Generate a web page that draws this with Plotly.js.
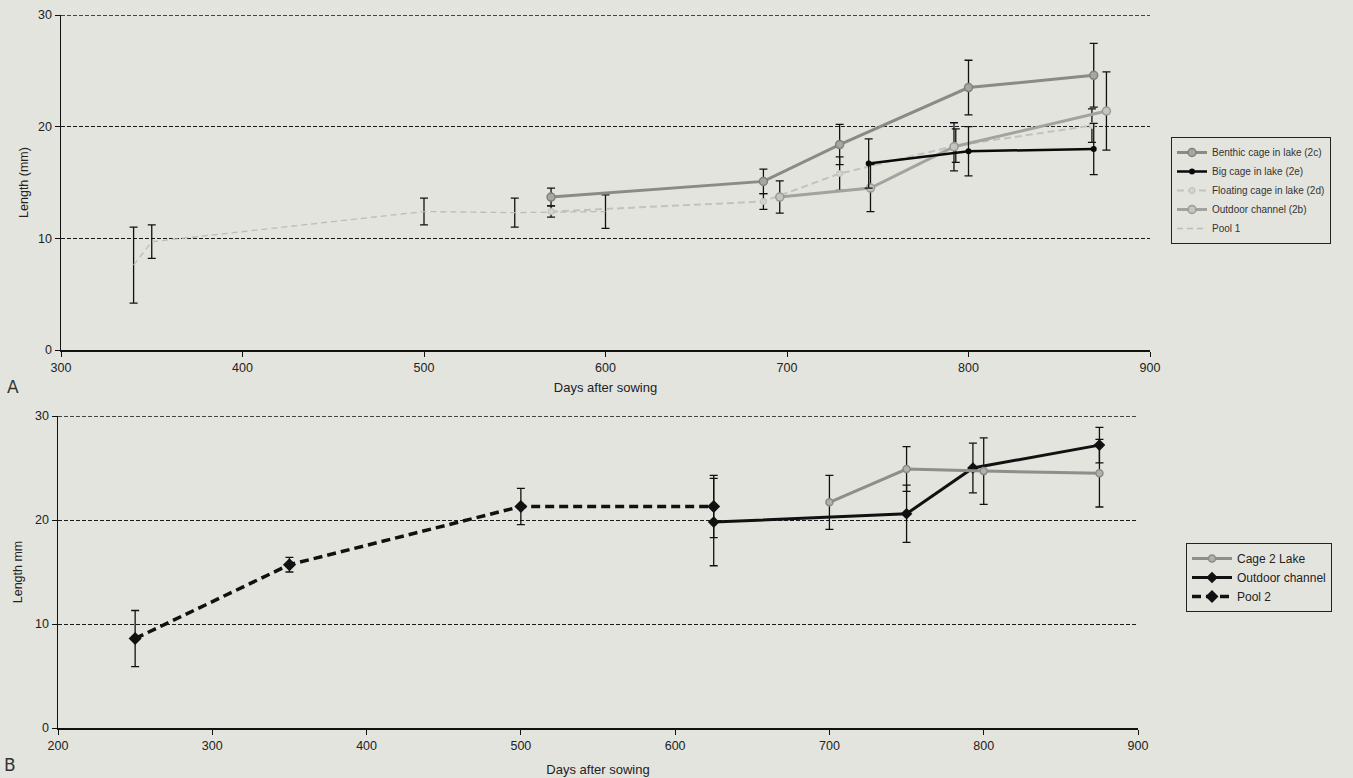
<!DOCTYPE html>
<html>
<head>
<meta charset="utf-8">
<script src="https://cdn.plot.ly/plotly-3.0.1.min.js"></script>
<style>
html,body{margin:0;padding:0;background:#e4e4de;}
#chart{width:1353px;height:778px;}
</style>
</head>
<body>
<div id="chart"></div>
<script>
// ---------- Panel A data ----------
const benthicX   = [570, 687, 729, 800, 869];
const benthicY   = [13.7, 15.1, 18.4, 23.5, 24.6];
const benthicErr = [0.8, 1.1, 1.8, 2.45, 2.85];

const bigCageX   = [745, 800, 869];
const bigCageY   = [16.7, 17.8, 18.0];
const bigCageErr = [2.2, 2.2, 2.3];

const floatX   = [570, 687, 729, 793, 868];
const floatY   = [12.4, 13.3, 15.8, 18.3, 20.1];
const floatErr = [0.5, 0.7, 1.5, 1.5, 1.5];

const outdoorAX   = [696, 746, 792, 876];
const outdoorAY   = [13.7, 14.5, 18.2, 21.4];
const outdoorAErr = [1.45, 2.1, 2.15, 3.5];

const pool1X   = [340, 350, 500, 550, 600];
const pool1Y   = [7.6, 9.7, 12.4, 12.3, 12.4];
const pool1Err = [3.4, 1.5, 1.2, 1.3, 1.5];

// ---------- Panel B data ----------
const cage2X   = [700, 750, 800, 875];
const cage2Y   = [21.7, 24.9, 24.7, 24.5];
const cage2Err = [2.6, 2.15, 3.2, 3.25];

const outdoorBX   = [625, 750, 793, 875];
const outdoorBY   = [19.8, 20.6, 25.0, 27.2];
const outdoorBErr = [4.2, 2.75, 2.4, 1.7];

const pool2X   = [250, 350, 500, 625];
const pool2Y   = [8.6, 15.7, 21.3, 21.3];
const pool2Err = [2.7, 0.7, 1.75, 3.0];

const labelsA = ['Benthic cage in lake (2c)', 'Big cage in lake (2e)', 'Floating cage in lake (2d)', 'Outdoor channel (2b)', 'Pool 1'];
const labelsB = ['Cage 2 Lake', 'Outdoor channel', 'Pool 2'];
const yMax = 30;

function err(arr){ return {type:'data', array:arr, visible:true, color:'#111', thickness:1.3, width:4}; }

const traces = [
  {x:pool1X, y:pool1Y, error_y:err(pool1Err), name:labelsA[4], mode:'lines', xaxis:'x', yaxis:'y', legend:'legend', legendrank:5,
   line:{color:'#bcbcb8', width:1.3, dash:'6px,4px'}},
  {x:floatX, y:floatY, error_y:err(floatErr), name:labelsA[2], mode:'lines+markers', xaxis:'x', yaxis:'y', legend:'legend', legendrank:3,
   line:{color:'#c2c2be', width:2, dash:'7px,4px'}, marker:{symbol:'circle', size:6, color:'#d4d4d0', line:{color:'#bdbdb8', width:1}}},
  {x:outdoorAX, y:outdoorAY, error_y:err(outdoorAErr), name:labelsA[3], mode:'lines+markers', xaxis:'x', yaxis:'y', legend:'legend', legendrank:4,
   line:{color:'#a2a29e', width:3}, marker:{symbol:'circle', size:8, color:'#c4c4c0', line:{color:'#9a9a96', width:1.5}}},
  {x:bigCageX, y:bigCageY, error_y:err(bigCageErr), name:labelsA[1], mode:'lines+markers', xaxis:'x', yaxis:'y', legend:'legend', legendrank:2,
   line:{color:'#0a0a0a', width:2.5}, marker:{symbol:'circle', size:6, color:'#0a0a0a'}},
  {x:benthicX, y:benthicY, error_y:err(benthicErr), name:labelsA[0], mode:'lines+markers', xaxis:'x', yaxis:'y', legend:'legend', legendrank:1,
   line:{color:'#8a8a86', width:3}, marker:{symbol:'circle', size:8, color:'#a6a6a2', line:{color:'#80807c', width:1.5}}},

  {x:pool2X, y:pool2Y, error_y:err(pool2Err), name:labelsB[2], mode:'lines+markers', xaxis:'x2', yaxis:'y2', legend:'legend2', legendrank:3,
   line:{color:'#111', width:3.5, dash:'9px,5px'}, marker:{symbol:'diamond', size:10, color:'#111'}},
  {x:outdoorBX, y:outdoorBY, error_y:err(outdoorBErr), name:labelsB[1], mode:'lines+markers', xaxis:'x2', yaxis:'y2', legend:'legend2', legendrank:2,
   line:{color:'#111', width:3}, marker:{symbol:'diamond', size:9, color:'#111'}},
  {x:cage2X, y:cage2Y, error_y:err(cage2Err), name:labelsB[0], mode:'lines+markers', xaxis:'x2', yaxis:'y2', legend:'legend2', legendrank:1,
   line:{color:'#8e8e8a', width:3}, marker:{symbol:'circle', size:7, color:'#b0b0ac', line:{color:'#8a8a86', width:1.5}}}
];

const font = {family:'Liberation Sans, Arial, sans-serif', color:'#222'};
function xax(domain, range, anchor, title, standoff){
  return {domain:domain, range:range, anchor:anchor, tickmode:'linear', dtick:100, showgrid:false, zeroline:false,
    showline:true, linecolor:'#111', linewidth:1.5, ticks:'outside', ticklen:5, tickcolor:'#111',
    tickfont:{family:font.family, size:12.5, color:'#222'},
    title:{text:title, font:{family:font.family, size:13, color:'#222'}, standoff:standoff}, automargin:false, fixedrange:true};
}
function yax(domain, anchor, title, standoff){
  return {domain:domain, range:[0, yMax], anchor:anchor, tickmode:'linear', dtick:10, showgrid:true, gridcolor:'#1a1a1a', gridwidth:1, griddash:'4px,2px',
    zeroline:false, showline:true, linecolor:'#111', linewidth:1.5, ticks:'outside', ticklen:5, tickcolor:'#111',
    tickfont:{family:font.family, size:12.5, color:'#222'},
    title:{text:title, font:{family:font.family, size:12.5, color:'#222'}, standoff:standoff}, automargin:false, fixedrange:true};
}

const W = 1353, H = 778;
const layout = {
  width:W, height:H, margin:{l:0, r:0, t:0, b:0},
  paper_bgcolor:'#e4e4de', plot_bgcolor:'rgba(0,0,0,0)',
  font:font, showlegend:true,
  xaxis: xax([61/W, 1150/W], [300, 900], 'y', 'Days after sowing', 9),
  yaxis: yax([(H-350)/H, (H-15)/H], 'x', 'Length (mm)', 6),
  xaxis2: xax([58/W, 1138/W], [200, 900], 'y2', 'Days after sowing', 13),
  yaxis2: yax([(H-728)/H, (H-416)/H], 'x2', 'Length mm', 9),
  shapes:[
    {type:'line', xref:'x domain', yref:'y', x0:0, x1:1, y0:yMax, y1:yMax, line:{color:'#111', width:1.3, dash:'4px,2px'}},
    {type:'line', xref:'x2 domain', yref:'y2', x0:0, x1:1, y0:yMax, y1:yMax, line:{color:'#111', width:1.3, dash:'4px,2px'}}
  ],
  legend:{x:1171/W, y:(H-137)/H, xanchor:'left', yanchor:'top', bgcolor:'rgba(0,0,0,0)', bordercolor:'#222', borderwidth:1,
    font:{family:font.family, size:10, color:'#333'}, traceorder:'normal', itemwidth:30, tracegroupgap:0},
  legend2:{x:1186/W, y:(H-543)/H, xanchor:'left', yanchor:'top', bgcolor:'rgba(0,0,0,0)', bordercolor:'#222', borderwidth:1,
    font:{family:font.family, size:12, color:'#222'}, traceorder:'normal', itemwidth:40, tracegroupgap:0},
  annotations:[
    {text:'A', xref:'paper', yref:'paper', x:5/W, y:(H-387)/H, xanchor:'left', yanchor:'middle', showarrow:false, font:{family:'DejaVu Sans, sans-serif', size:17, color:'#333'}},
    {text:'B', xref:'paper', yref:'paper', x:2/W, y:(H-765)/H, xanchor:'left', yanchor:'middle', showarrow:false, font:{family:'DejaVu Sans, sans-serif', size:17, color:'#333'}}
  ]
};

Plotly.newPlot('chart', traces, layout, {displayModeBar:false, staticPlot:true});
</script>
</body>
</html>
